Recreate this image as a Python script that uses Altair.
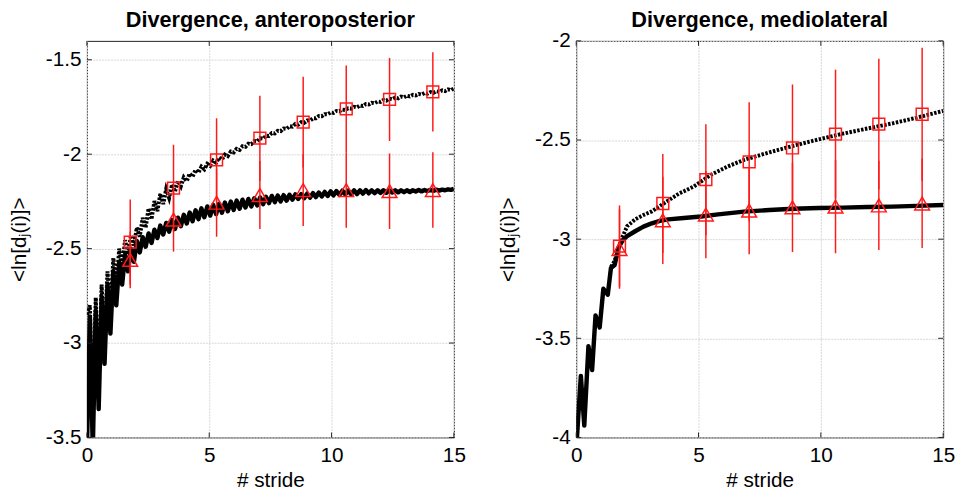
import altair as alt
import pandas as pd

# ---------------- data ----------------
STEP = 0.12  # stride spacing of the sampled divergence curves (left panel)

AP_SOLID = [
    -3.56, -2.86, -3.56, -2.83, -3.35, -2.76, -3.11, -2.69, -2.95, -2.62,
    -2.80, -2.57, -2.69, -2.53, -2.62, -2.50, -2.57, -2.46, -2.52, -2.44,
    -2.49, -2.42, -2.47, -2.40, -2.444, -2.378, -2.425, -2.364, -2.41, -2.349,
    -2.396, -2.336, -2.381, -2.321, -2.367, -2.309, -2.355, -2.297, -2.344, -2.287,
    -2.334, -2.277, -2.325, -2.269, -2.317, -2.263, -2.31, -2.256, -2.302, -2.251,
    -2.295, -2.246, -2.289, -2.241, -2.282, -2.237, -2.277, -2.233, -2.271, -2.229,
    -2.265, -2.226, -2.259, -2.221, -2.254, -2.219, -2.25, -2.217, -2.246, -2.215,
    -2.241, -2.213, -2.237, -2.211, -2.233, -2.209, -2.23, -2.206, -2.227, -2.203,
    -2.224, -2.2, -2.221, -2.197, -2.218, -2.195, -2.216, -2.193, -2.213, -2.193,
    -2.212, -2.191, -2.211, -2.191, -2.209, -2.19, -2.207, -2.191, -2.206, -2.191,
    -2.205, -2.191, -2.204, -2.191, -2.203, -2.191, -2.202, -2.191, -2.201, -2.191,
    -2.2, -2.191, -2.198, -2.19, -2.197, -2.19, -2.195, -2.189, -2.194, -2.188,
    -2.193, -2.188, -2.191, -2.186, -2.189, -2.184,
]

AP_DOTTED = [
    -2.85, -2.80, -3.45, -2.76, -3.20, -2.69, -3.00, -2.62, -2.84, -2.55,
    -2.70, -2.50, -2.60, -2.455, -2.53, -2.43, -2.483, -2.389, -2.437, -2.337,
    -2.39, -2.287, -2.345, -2.248, -2.302, -2.21, -2.264, -2.185, -2.231, -2.16,
    -2.198, -2.142, -2.17, -2.123, -2.143, -2.103, -2.119, -2.083, -2.098, -2.066,
    -2.08, -2.051, -2.062, -2.034, -2.045, -2.018, -2.028, -2.002, -2.01, -1.986,
    -1.991, -1.972, -1.977, -1.958, -1.961, -1.944, -1.947, -1.93, -1.932, -1.915,
    -1.918, -1.902, -1.903, -1.888, -1.89, -1.876, -1.878, -1.864, -1.866, -1.852,
    -1.854, -1.84, -1.843, -1.83, -1.834, -1.822, -1.822, -1.81, -1.81, -1.798,
    -1.799, -1.788, -1.789, -1.779, -1.781, -1.771, -1.773, -1.764, -1.766, -1.757,
    -1.759, -1.749, -1.752, -1.742, -1.745, -1.735, -1.737, -1.728, -1.73, -1.721,
    -1.723, -1.713, -1.716, -1.706, -1.709, -1.7, -1.704, -1.695, -1.699, -1.69,
    -1.694, -1.686, -1.689, -1.681, -1.684, -1.676, -1.68, -1.671, -1.675, -1.667,
    -1.67, -1.662, -1.666, -1.657, -1.661, -1.652,
]

ML_SOLID_X = [0.02, 0.19, 0.33, 0.50, 0.65, 0.79, 0.96, 1.11, 1.29, 1.42,
              1.57, 1.74, 1.90, 2.08, 2.41, 2.75, 3.09, 3.42, 3.76, 4.40,
              5.10, 5.80, 6.86, 7.90, 8.88, 9.90, 10.90, 11.90, 12.93, 13.90, 15.00]
ML_SOLID_Y = [-4.02, -3.69, -3.94, -3.54, -3.66, -3.385, -3.445, -3.25, -3.28, -3.145,
              -3.13, -3.04, -3.005, -2.985, -2.96, -2.937, -2.92, -2.908, -2.90, -2.893,
              -2.886, -2.875, -2.861, -2.853, -2.847, -2.843, -2.841, -2.838, -2.836, -2.832, -2.828]

ML_DOTTED_X = [1.42, 1.57, 1.74, 1.87, 2.08, 2.41, 2.75, 3.09, 3.54, 4.20, 4.80,
               5.51, 6.20, 6.86, 7.90, 8.88, 9.90, 10.90, 11.90, 12.93, 13.90, 15.00]
ML_DOTTED_Y = [-3.14, -3.11, -3.04, -2.995, -2.935, -2.90, -2.878, -2.86, -2.823, -2.77, -2.735,
               -2.675, -2.633, -2.60, -2.562, -2.529, -2.497, -2.468, -2.442, -2.416, -2.388, -2.353]

MARK_X = [1.77, 3.54, 5.30, 7.07, 8.84, 10.60, 12.37, 14.14]
AP_SQ_MEAN = [-2.466, -2.18, -2.03, -1.915, -1.83, -1.76, -1.71, -1.67]
AP_SQ_SD = [0.226, 0.23, 0.22, 0.225, 0.24, 0.23, 0.22, 0.21]
AP_TRI_MEAN = [-2.56, -2.346, -2.257, -2.216, -2.19, -2.19, -2.196, -2.19]
AP_TRI_SD = [0.15, 0.17, 0.18, 0.18, 0.19, 0.20, 0.20, 0.20]
ML_SQ_MEAN = [-3.035, -2.82, -2.70, -2.61, -2.54, -2.47, -2.42, -2.37]
ML_SQ_SD = [0.205, 0.25, 0.28, 0.30, 0.32, 0.325, 0.33, 0.335]
ML_TRI_MEAN = [-3.05, -2.905, -2.876, -2.856, -2.84, -2.836, -2.83, -2.82]
ML_TRI_SD = [0.20, 0.22, 0.22, 0.22, 0.225, 0.235, 0.225, 0.225]

X_TICKS = [0, 5, 10, 15]
AP_Y_TICKS = [-3.5, -3, -2.5, -2, -1.5]
ML_Y_TICKS = [-4, -3.5, -3, -2.5, -2]
AP_Y_DOMAIN = [-3.5, -1.4]
ML_Y_DOMAIN = [-4, -2]
TITLES = ["Divergence, anteroposterior", "Divergence, mediolateral"]

# ---------------- chart ----------------
FONT = "Liberation Sans"
W, H = 372, 402
RED = "#ff1a1a"
Y_TITLE = "<ln[d\u2c7c(i)]>"


def grid_df(values):
    return pd.DataFrame({"x": [i * STEP for i in range(len(values))], "y": values})


def panel(title, solid_df, dotted_df, sq_mean, sq_sd, tri_mean, tri_sd, ydom, yticks):
    xs = alt.Scale(domain=[0, 15], nice=False, zero=False)
    ys = alt.Scale(domain=ydom, nice=False, zero=False)
    xax = alt.Axis(values=X_TICKS, title="# stride", labelExpr="datum.value + ''",
                   ticks=False, domain=False, grid=True, labelFlush=False,
                   labelPadding=7, titlePadding=5, labelOverlap=False)
    yax = alt.Axis(values=yticks, title=Y_TITLE, labelExpr="datum.value + ''",
                   ticks=False, domain=False, grid=True, labelPadding=6,
                   titlePadding=16, labelOverlap=False)
    X = alt.X("x:Q", scale=xs, axis=xax)
    Y = alt.Y("y:Q", scale=ys, axis=yax)

    solid = alt.Chart(solid_df).mark_line(color="black", strokeWidth=4.5, clip=True,
                                          strokeJoin="round").encode(x=X, y=Y)
    dotted = alt.Chart(dotted_df).mark_line(color="black", strokeWidth=4, clip=True,
                                            strokeDash=[2.5, 1.5]).encode(x=X, y=Y)

    sq = pd.DataFrame({"x": MARK_X, "y": sq_mean})
    tri = pd.DataFrame({"x": MARK_X, "y": tri_mean})
    bars = pd.DataFrame({
        "x": MARK_X + MARK_X,
        "y": [m - s for m, s in zip(sq_mean, sq_sd)] + [m - s for m, s in zip(tri_mean, tri_sd)],
        "y2": [m + s for m, s in zip(sq_mean, sq_sd)] + [m + s for m, s in zip(tri_mean, tri_sd)],
    })
    err = alt.Chart(bars).mark_rule(color=RED, strokeWidth=1.5).encode(x=X, y=Y, y2="y2:Q")
    sqm = alt.Chart(sq).mark_point(shape="square", size=144, filled=False, color=RED,
                                   strokeWidth=1.5, opacity=1).encode(x=X, y=Y)
    trim = alt.Chart(tri).mark_point(shape="triangle-up", size=225, filled=False, color=RED,
                                     strokeWidth=1.5, opacity=1).encode(x=X, y=Y)

    xt = pd.DataFrame({"x": X_TICKS})
    yt = pd.DataFrame({"y": yticks})
    tick_kw = dict(color="#222222", strokeWidth=1)
    tb = alt.Chart(xt).mark_rule(**tick_kw).encode(x=X, y=alt.value(H), y2=alt.value(H - 5))
    tt = alt.Chart(xt).mark_rule(**tick_kw).encode(x=X, y=alt.value(0), y2=alt.value(5))
    tl = alt.Chart(yt).mark_rule(**tick_kw).encode(y=Y, x=alt.value(0), x2=alt.value(5))
    tr = alt.Chart(yt).mark_rule(**tick_kw).encode(y=Y, x=alt.value(W), x2=alt.value(W - 5))

    ttl = alt.Chart(pd.DataFrame({"t": [title]})).mark_text(
        font=FONT, fontSize=22, fontWeight="bold", color="black",
        align="center", baseline="middle",
    ).encode(text="t:N", x=alt.value(W / 2), y=alt.value(-21))

    return alt.layer(solid, dotted, err, sqm, trim, tb, tt, tl, tr, ttl).properties(
        width=W, height=H)


left = panel(TITLES[0], grid_df(AP_SOLID), grid_df(AP_DOTTED),
             AP_SQ_MEAN, AP_SQ_SD, AP_TRI_MEAN, AP_TRI_SD, AP_Y_DOMAIN, AP_Y_TICKS)
right = panel(TITLES[1],
              pd.DataFrame({"x": ML_SOLID_X, "y": ML_SOLID_Y}),
              pd.DataFrame({"x": ML_DOTTED_X, "y": ML_DOTTED_Y}),
              ML_SQ_MEAN, ML_SQ_SD, ML_TRI_MEAN, ML_TRI_SD, ML_Y_DOMAIN, ML_Y_TICKS)

chart = alt.hconcat(left, right, spacing=31).properties(
    padding={"left": 0, "top": -3, "right": 0, "bottom": 0}
).configure_view(stroke="#222222", strokeWidth=1).configure_axis(
    labelFont=FONT, titleFont=FONT, labelFontSize=21, titleFontSize=21,
    labelColor="black", titleColor="black", titleFontWeight="normal",
    gridColor="#d6d6d6", gridDash=[2, 1], gridWidth=1,
)

chart.save("out.html", embed_options={"renderer": "svg", "actions": False})
